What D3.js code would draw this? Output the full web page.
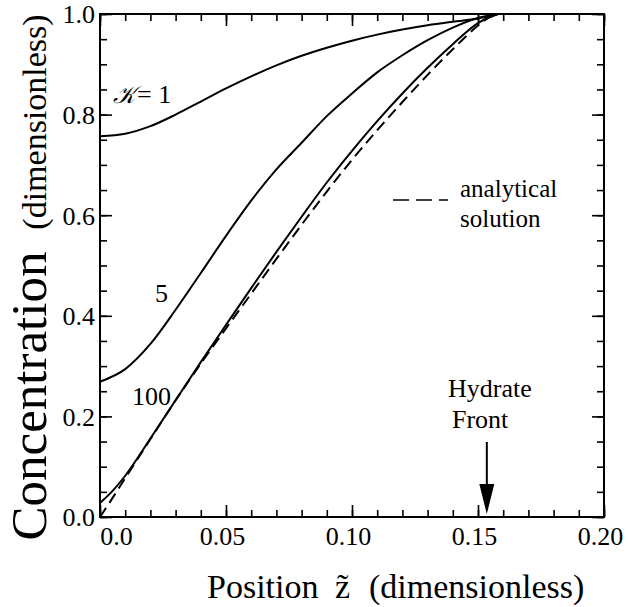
<!DOCTYPE html>
<html><head><meta charset="utf-8">
<script src="https://cdn.jsdelivr.net/npm/d3@7"></script>
<style>
body{margin:0;background:#fff}
svg{display:block}
text{font-family:"Liberation Serif","Times New Roman",serif;fill:#000}
</style>
</head><body>
<svg id="c" width="628" height="607"></svg>
<script>
// ---- data ----
const xTickValues = [0, 0.05, 0.10, 0.15, 0.20];
const xTickLabels = ["0.0", "0.05", "0.10", "0.15", "0.20"];
const yTickValues = [0, 0.2, 0.4, 0.6, 0.8, 1.0];
const yTickLabels = ["0.0", "0.2", "0.4", "0.6", "0.8", "1.0"];

const k1X = [0, 0.01, 0.02, 0.03, 0.04, 0.05, 0.06, 0.07, 0.08, 0.09, 0.10, 0.11, 0.12, 0.13, 0.14, 0.15, 0.158];
const k1Y = [0.757, 0.762, 0.777, 0.800, 0.826, 0.852, 0.876, 0.898, 0.917, 0.933, 0.947, 0.959, 0.969, 0.9775, 0.9845, 0.991, 1.0];

const k5X = [0, 0.01, 0.02, 0.03, 0.04, 0.05, 0.06, 0.07, 0.08, 0.09, 0.10, 0.11, 0.12, 0.13, 0.14, 0.15, 0.158];
const k5Y = [0.269, 0.294, 0.344, 0.412, 0.485, 0.559, 0.629, 0.691, 0.744, 0.797, 0.842, 0.884, 0.918, 0.948, 0.973, 0.992, 1.0];

const k100X = [0, 0.005, 0.01, 0.02, 0.03, 0.04, 0.05, 0.06, 0.07, 0.08, 0.09, 0.10, 0.11, 0.12, 0.13, 0.14, 0.15, 0.158];
const k100Y = [0.028, 0.052, 0.082, 0.156, 0.232, 0.308, 0.382, 0.455, 0.527, 0.597, 0.665, 0.728, 0.787, 0.842, 0.893, 0.94, 0.982, 1.0];

const anaX = [0, 0.005, 0.01, 0.02, 0.03, 0.04, 0.05, 0.06, 0.07, 0.08, 0.09, 0.10, 0.11, 0.12, 0.13, 0.14, 0.15, 0.156];
const anaY = [0.0, 0.038, 0.077, 0.155, 0.232, 0.305, 0.375, 0.444, 0.513, 0.581, 0.647, 0.71, 0.769, 0.825, 0.879, 0.93, 0.977, 1.0];

const hydrateFront = 0.1535;

// ---- layout ----
const svg = d3.select("#c");
const x = d3.scaleLinear().domain([0, 0.2]).range([100, 604]);
const y = d3.scaleLinear().domain([0, 1]).range([517, 14]);
const xMinor = d3.range(0, 21).map(i => i / 100);
const yMinor = d3.range(0, 21).map(i => i / 20);
const serif = '"Liberation Serif","Times New Roman",serif';

function styleAxis(g) {
  g.attr("font-family", serif);
  g.select(".domain").remove();
  g.selectAll(".tick line").attr("stroke", "#000").attr("stroke-width", 1.6);
  g.selectAll("text").attr("font-family", serif).attr("font-size", 26).attr("fill", "#000");
}

// minor ticks
svg.append("g").attr("transform", "translate(0,517)")
  .call(d3.axisBottom(x).tickValues(xMinor).tickSize(-7).tickFormat("")).call(styleAxis);
svg.append("g").attr("transform", "translate(0,14)")
  .call(d3.axisTop(x).tickValues(xMinor).tickSize(-7).tickFormat("")).call(styleAxis);
svg.append("g").attr("transform", "translate(100,0)")
  .call(d3.axisLeft(y).tickValues(yMinor).tickSize(-7).tickFormat("")).call(styleAxis);
svg.append("g").attr("transform", "translate(604,0)")
  .call(d3.axisRight(y).tickValues(yMinor).tickSize(-7).tickFormat("")).call(styleAxis);

// major ticks
const bx = svg.append("g").attr("transform", "translate(0,517)")
  .call(d3.axisBottom(x).tickValues(xTickValues).tickSize(-12).tickPadding(10).tickFormat((d, i) => xTickLabels[i])).call(styleAxis);
bx.selectAll(".tick text").attr("dx", (d, i) => i === 0 ? 16 : -4);
svg.append("g").attr("transform", "translate(0,14)")
  .call(d3.axisTop(x).tickValues(xTickValues).tickSize(-12).tickFormat("")).call(styleAxis);
const ly = svg.append("g").attr("transform", "translate(100,0)")
  .call(d3.axisLeft(y).tickValues(yTickValues).tickSize(-12).tickPadding(5).tickFormat((d, i) => yTickLabels[i])).call(styleAxis);
ly.selectAll(".tick text").attr("dy", "0.34em");
svg.append("g").attr("transform", "translate(604,0)")
  .call(d3.axisRight(y).tickValues(yTickValues).tickSize(-12).tickFormat("")).call(styleAxis);

// frame
svg.append("rect").attr("x", x(0)).attr("y", y(1)).attr("width", x(0.2) - x(0)).attr("height", y(0) - y(1))
  .attr("fill", "none").attr("stroke", "#000").attr("stroke-width", 2);

// curves
const line = d3.line().x(d => x(d[0])).y(d => y(d[1])).curve(d3.curveMonotoneX);
const zip = (a, b) => a.map((v, i) => [v, b[i]]);
[[k1X, k1Y], [k5X, k5Y], [k100X, k100Y]].forEach(([a, b]) => {
  svg.append("path").attr("d", line(zip(a, b))).attr("fill", "none").attr("stroke", "#000").attr("stroke-width", 2);
});
svg.append("path").attr("d", line(zip(anaX, anaY))).attr("fill", "none").attr("stroke", "#000")
  .attr("stroke-width", 2).attr("stroke-dasharray", "11,6");

// curve labels
const kl = svg.append("text").attr("x", 113).attr("y", 103).attr("font-size", 26);
kl.append("tspan").attr("font-family", '"DejaVu Serif","DejaVu Sans",serif').attr("font-style", "italic").attr("font-size", 24).text("𝒦");
kl.append("tspan").attr("dx", 2).text("= 1");
svg.append("text").attr("x", 155).attr("y", 302).attr("font-size", 26).text("5");
svg.append("text").attr("x", 132).attr("y", 405).attr("font-size", 26).text("100");

// legend
svg.append("line").attr("x1", 393).attr("x2", 448).attr("y1", 200).attr("y2", 200)
  .attr("stroke", "#000").attr("stroke-width", 1.6).attr("stroke-dasharray", "16,7");
svg.append("text").attr("x", 460).attr("y", 197).attr("font-size", 25).text("analytical");
svg.append("text").attr("x", 460).attr("y", 227).attr("font-size", 25).text("solution");

// hydrate front annotation
svg.append("text").attr("x", 448).attr("y", 397).attr("font-size", 26).text("Hydrate");
svg.append("text").attr("x", 452).attr("y", 428).attr("font-size", 26).text("Front");
const ax = x(hydrateFront);
svg.append("line").attr("x1", ax).attr("x2", ax).attr("y1", 442).attr("y2", 488)
  .attr("stroke", "#000").attr("stroke-width", 2);
svg.append("path").attr("d", `M${ax - 7.5},484 L${ax + 7.5},484 L${ax},514 Z`).attr("fill", "#000");

// axis titles
const xt = svg.append("g");
xt.append("text").attr("x", 207).attr("y", 598).attr("font-size", 34).text("Position");
xt.append("text").attr("x", 335).attr("y", 598).attr("font-size", 34).text("z\u0303");
xt.append("text").attr("x", 369).attr("y", 598).attr("font-size", 34).text("(dimensionless)");

const yt = svg.append("g").attr("transform", "translate(46,0) rotate(-90)");
yt.append("text").attr("x", -396).attr("y", 0).attr("font-size", 51).attr("text-anchor", "middle").text("Concentration");
yt.append("text").attr("x", -122).attr("y", 0).attr("font-size", 34).attr("text-anchor", "middle").text("(dimensionless)");
</script>
</body></html>
